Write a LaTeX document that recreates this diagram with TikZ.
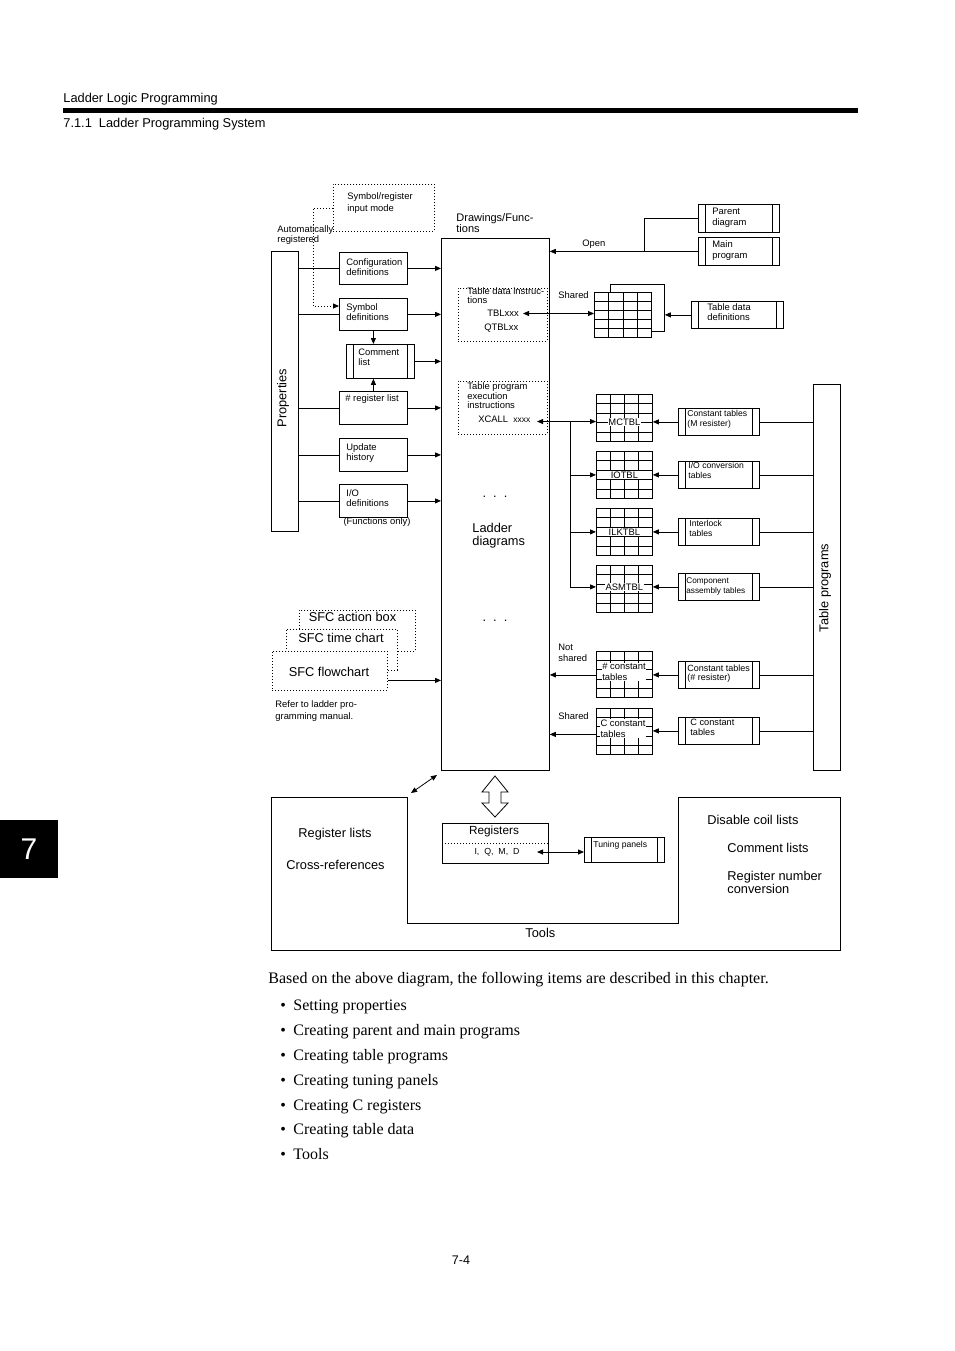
\documentclass[tikz,border=0pt]{standalone}
\usepackage{fontspec}
\setmainfont{Liberation Sans}
\newfontfamily\seriffont{Liberation Serif}
\usetikzlibrary{arrows.meta,calc}
\tikzset{
  box/.style={draw, rectangle, inner sep=0pt, anchor=north west},
  dots/.style={dash pattern=on 1pt off 2pt},
  dotbox/.style={box, dots},
  dbox/.style={box, path picture={
      \draw ([xshift=7pt]path picture bounding box.north west) -- ([xshift=7pt]path picture bounding box.south west);
      \draw ([xshift=-7pt]path picture bounding box.north east) -- ([xshift=-7pt]path picture bounding box.south east);}},
  tgrid/.style={box, path picture={
      \foreach \k in {1,2,3} {\draw ($(path picture bounding box.north west)!\k/4!(path picture bounding box.north east)$) -- ($(path picture bounding box.south west)!\k/4!(path picture bounding box.south east)$);}
      \foreach \k in {1,2,3,4} {\draw ($(path picture bounding box.north west)!\k/5!(path picture bounding box.south west)$) -- ($(path picture bounding box.north east)!\k/5!(path picture bounding box.south east)$);}}},
  arr/.style={-{Triangle[length=6pt,width=5pt]}},
  darr/.style={{Triangle[length=6pt,width=5pt]}-{Triangle[length=6pt,width=5pt]}},
  st/.style={inner sep=0pt, align=left, anchor=north west, font=\fontsize{9.4}{10}\selectfont},
  ss/.style={st, font=\fontsize{8.6}{10}\selectfont},
  lt/.style={inner sep=0pt, align=left, anchor=north west, font=\fontsize{12.8}{13}\selectfont},
  gl/.style={fill=white, inner sep=0.6pt, align=left, font=\fontsize{9.4}{11}\selectfont},
  bodyt/.style={inner sep=0pt, anchor=base west, font=\seriffont\fontsize{16}{18}\selectfont},
}
\begin{document}
\begin{tikzpicture}[x=1pt, y=-1pt, line width=0.8pt]
\useasboundingbox (0,0) rectangle (954,1351);
\fill[white] (0,0) rectangle (954,1351);

% ---------- header ----------
\node[lt, anchor=west] (h1) at (63,99.5) {Ladder Logic Programming};
\fill[black] (63,108.5) rectangle (858,113);
\node[lt, anchor=west] (h2) at (63,124) {7.1.1\ \ Ladder Programming System};

% ---------- properties ----------
\node[box, minimum width=27pt, minimum height=280pt] (prop) at (271,251) {};
\node[inner sep=0pt, rotate=90, font=\fontsize{12.8}{13}\selectfont] (propl) at (283,398) {Properties};

\node[dotbox, minimum width=101pt, minimum height=47pt] (sri) at (333,184) {};
\node[st, font=\fontsize{9.4}{12}\selectfont] (srit) at (347,192) {Symbol/register\\input mode};
\node[st] (autot) at (277,225) {Automatically\\registered};

\node[box, minimum width=68pt, minimum height=32pt] (conf) at (339,252) {};
\node[st] (conft) at (346,258) {Configuration\\definitions};
\node[box, minimum width=68pt, minimum height=32pt] (sym) at (339,298) {};
\node[st] (symt) at (346,303) {Symbol\\definitions};
\node[dbox, minimum width=68pt, minimum height=34pt] (com) at (346,344) {};
\node[st] (comt) at (358,349) {Comment\\list};
\node[box, minimum width=68pt, minimum height=33pt] (reg) at (339,391) {};
\node[st] (regt) at (345,394) {\# register list};
\node[box, minimum width=68pt, minimum height=33pt] (upd) at (339,438) {};
\node[st] (updt) at (346,443) {Update\\history};
\node[box, minimum width=68pt, minimum height=33pt] (iod) at (339,484) {};
\node[st] (iodt) at (346,489) {I/O\\definitions};
\node[st, anchor=center] (fonly) at (377,522.5) {(Functions only)};

% ---------- main drawings box ----------
\node[box, minimum width=108pt, minimum height=532pt] (drw) at (441,238) {};
\node[st, font=\fontsize{11}{11}\selectfont] (drwt) at (456,213) {Drawings/Func-\\tions};

\foreach \b in {conf,sym,reg,upd,iod} {
  \draw (prop.east |- \b.west) -- (\b.west);
  \draw[arr] (\b.east) -- (\b.east -| drw.west);
}
\draw[arr] (com.east) -- (com.east -| drw.west);
\draw[arr] (sym.south) -- (sym.south |- com.north);
\draw[arr] (reg.north) -- (reg.north |- com.south);
\coordinate (autoc) at (313,306);
\draw[dots, arr] (sri.west) -| (autoc) -- (autoc -| sym.west);

\node[dotbox, minimum width=89pt, minimum height=53pt] (tdi) at (458,288) {};
\node[st, font=\fontsize{9.4}{9}\selectfont] (tdit) at (467,287.5) {Table data instruc-\\tions};
\node[st] (tblt) at (487,310) {TBLxxx};
\node[st] (qtblt) at (484,323.5) {QTBLxx};

\node[dotbox, minimum width=89pt, minimum height=53pt] (tpe) at (458,381) {};
\node[st, font=\fontsize{9.4}{9.6}\selectfont] (tpet) at (467,382.5) {Table program\\execution\\instructions};
\node[st] (xct) at (478,416) {XCALL\ \ {\fontsize{8.4}{9}\selectfont xxxx}};

\node[inner sep=0pt, font=\fontsize{12.8}{13}\selectfont] (dots1) at (495,497) {.\ \ .\ \ .};
\node[lt] (ldt) at (472,523) {Ladder\\diagrams};
\node[inner sep=0pt, font=\fontsize{12.8}{13}\selectfont] (dots2) at (495,621) {.\ \ .\ \ .};

% ---------- parent / main program ----------
\node[dbox, minimum width=81pt, minimum height=28pt] (pd) at (698,204) {};
\node[st, font=\fontsize{9.4}{11}\selectfont] (pdt) at (712,208) {Parent\\diagram};
\node[dbox, minimum width=81pt, minimum height=28pt] (mp) at (698,237) {};
\node[st, font=\fontsize{9.4}{11}\selectfont] (mpt) at (712,240) {Main\\program};
\coordinate (openj) at (644,251);
\draw[arr] (mp.west) -- (mp.west -| drw.east);
\draw (pd.west) -- (pd.west -| openj) -- (openj);
\node[st] (opent) at (582,240) {Open};

% ---------- shared table data ----------
\node[box, fill=white, minimum width=54pt, minimum height=47pt] (gb) at (610,284) {};
\node[tgrid, fill=white, minimum width=57pt, minimum height=45pt] (gs) at (594,292) {};
\node[dbox, minimum width=92pt, minimum height=27pt] (tdd) at (691,301) {};
\node[st] (tddt) at (707,303) {Table data\\definitions};
\coordinate (tblend) at (523,313.5);
\draw[darr] (tblend) -- (tblend -| gs.west);
\draw[arr] (tdd.west) -- (tdd.west -| gb.east);
\node[st] (sh1) at (558,291) {Shared};

% ---------- table programs ----------
\node[box, minimum width=27pt, minimum height=386pt] (tp) at (813,384) {};
\node[inner sep=0pt, rotate=90, font=\fontsize{12.8}{13}\selectfont] (tpt) at (825,588) {Table programs};

\node[tgrid, minimum width=56pt, minimum height=47pt] (mctbl) at (596,394) {};
\node[tgrid, minimum width=56pt, minimum height=47pt] (iotbl) at (596,451) {};
\node[tgrid, minimum width=56pt, minimum height=47pt] (ilktbl) at (596,508) {};
\node[tgrid, minimum width=56pt, minimum height=47pt] (asmtbl) at (596,565) {};
\node[tgrid, minimum width=56pt, minimum height=46pt] (hctbl) at (596,651) {};
\node[tgrid, minimum width=56pt, minimum height=46pt] (cctbl) at (596,708) {};

\node[dbox, minimum width=81pt, minimum height=27pt] (cm) at (678,408) {};
\node[ss] (cmt) at (687,409.5) {Constant tables\\(M resister)};
\node[dbox, minimum width=81pt, minimum height=27pt] (ioc) at (678,461) {};
\node[ss] (ioct) at (688,461.5) {I/O conversion\\tables};
\node[dbox, minimum width=81pt, minimum height=27pt] (ilk) at (678,518) {};
\node[ss] (ilkt) at (689,519.5) {Interlock\\tables};
\node[dbox, minimum width=81pt, minimum height=27pt] (comp) at (678,573) {};
\node[ss, font=\fontsize{8.2}{9.6}\selectfont] (compt) at (686,577.5) {Component\\assembly tables};
\node[dbox, minimum width=81pt, minimum height=27pt] (chr) at (678,661) {};
\node[st, font=\fontsize{9}{9.5}\selectfont] (chrt) at (687,664.5) {Constant tables\\(\# resister)};
\node[dbox, minimum width=81pt, minimum height=27pt] (ccon) at (678,717) {};
\node[st, font=\fontsize{9.2}{10.5}\selectfont] (ccont) at (690,718.5) {C constant\\tables};

\foreach \b in {cm,ioc,ilk,comp,chr,ccon} {\draw (\b.east) -- (\b.east -| tp.west);}
\draw[arr] (cm.west) -- (cm.west -| mctbl.east);
\draw[arr] (ioc.west) -- (ioc.west -| iotbl.east);
\draw[arr] (ilk.west) -- (ilk.west -| ilktbl.east);
\draw[arr] (comp.west) -- (comp.west -| asmtbl.east);
\draw[arr] (chr.west) -- (chr.west -| hctbl.east);
\draw[arr] (ccon.west) -- (ccon.west -| cctbl.east);

\node[gl] (mcl) at (mctbl.center |- cm.west) {MCTBL};
\node[gl] (iol) at (iotbl.center |- ioc.west) {IOTBL};
\node[gl] (ilkl) at (ilktbl.center |- ilk.west) {ILKTBL};
\node[gl] (asml) at (asmtbl.center |- comp.west) {ASMTBL};
\node[gl] (hcl) at (624,672) {\# constant\\tables};
\node[gl] (ccl) at (623,728.5) {C constant\\tables};

% XCALL connections
\coordinate (xcend) at (537,421.5);
\coordinate (br) at (570,421.5);
\draw[darr] (xcend) -- (xcend -| mctbl.west);
\draw (br) -- (br |- comp.west);
\draw[arr] (br |- ioc.west) -- (ioc.west -| iotbl.west);
\draw[arr] (br |- ilk.west) -- (ilk.west -| ilktbl.west);
\draw[arr] (br |- comp.west) -- (comp.west -| asmtbl.west);

% not shared / shared
\draw[arr] (hctbl.west |- chr.west) -- (drw.east |- chr.west);
\coordinate (cl) at ($(cctbl.west)+(0,3)$);
\draw[arr] (cl) -- (cl -| drw.east);
\node[st, font=\fontsize{9.4}{11}\selectfont] (nst) at (558,644) {Not\\shared};
\node[st] (sh2) at (558,712) {Shared};

% ---------- SFC ----------
\node[dotbox, fill=white, minimum width=116pt, minimum height=41pt] (sfca) at (299,610) {};
\node[dotbox, fill=white, minimum width=111pt, minimum height=41pt] (sfct) at (286,629) {};
\node[dotbox, fill=white, minimum width=115pt, minimum height=39pt] (sfcf) at (272,651) {};
\node[inner sep=0pt, font=\fontsize{12.8}{13}\selectfont] (sfcat) at (352.5,617) {SFC action box};
\node[inner sep=0pt, font=\fontsize{12.8}{13}\selectfont] (sfctt) at (341,638) {SFC time chart};
\node[inner sep=0pt, font=\fontsize{12.8}{13}\selectfont] (sfcft) at (329,672) {SFC flowchart};
\coordinate (sfcout) at ($(sfcf.east)+(0,9.5)$);
\draw[arr] (sfcout) -- (sfcout -| drw.west);
\node[st, font=\fontsize{9.4}{12}\selectfont] (reft) at (275,700) {Refer to ladder pro-\\gramming manual.};

% ---------- tools ----------
\draw (271,797) -- (271,950) -- (840,950) -- (840,797) -- (678,797) -- (678,923) -- (407,923) -- (407,797) -- cycle;
\node[lt] (rlt) at (298,828) {Register lists};
\node[lt] (crt) at (286,860) {Cross-references};
\node[lt] (toolt) at (525,927.5) {Tools};
\node[lt] (dclt) at (707,815) {Disable coil lists};
\node[lt] (clt) at (727,843) {Comment lists};
\node[lt, font=\fontsize{12.8}{12.5}\selectfont] (rnct) at (727,871) {Register number\\conversion};

\coordinate (d1) at (411,793);
\coordinate (d2) at (437,775);
\draw[darr] (d1) -- (d2);
\draw (495,776) -- (508,792) -- (501,792) -- (501,803) -- (508,803) -- (495,817) -- (482,803) -- (489,803) -- (489,792) -- (482,792) -- cycle;

\node[box, minimum width=106pt, minimum height=40pt] (regs) at (442,823) {};
\draw[dots] ($(regs.north west)+(0,20)$) -- ($(regs.north east)+(0,20)$);
\node[inner sep=0pt, font=\fontsize{11.8}{12}\selectfont] (regst) at (494,831) {Registers};
\node[inner sep=0pt, font=\fontsize{8.8}{10}\selectfont] (iqmd) at (497,852) {I,\ \ Q,\ \ M,\ \ D};
\node[dbox, minimum width=80pt, minimum height=25pt] (tun) at (584,837) {};
\node[ss] (tunt) at (593,841) {Tuning panels};
\coordinate (iqend) at (537,852);
\draw[darr] (iqend) -- (iqend -| tun.west);

% ---------- chapter tab ----------
\node[box, fill=black, minimum width=57pt, minimum height=57pt] (tab) at (0,820) {};
\node[text=white, inner sep=0pt, font=\fontsize{30}{30}\selectfont] (tabt) at (tab.center) {7};

% ---------- body text ----------
\node[bodyt] (body) at (268,983.5) {Based on the above diagram, the following items are described in this chapter.};
\foreach \t/\yy in {Setting properties/1010.5, Creating parent and main programs/1035.5, Creating table programs/1060.5, Creating tuning panels/1085.5, Creating C registers/1110.5, Creating table data/1134.5, Tools/1159.5} {
  \node[bodyt] at (280,\yy) {•};
  \node[bodyt] at (293,\yy) {\t};
}
\node[inner sep=0pt, font=\fontsize{12.5}{13}\selectfont] (pgno) at (461,1260) {7-4};
\end{tikzpicture}
\end{document}
